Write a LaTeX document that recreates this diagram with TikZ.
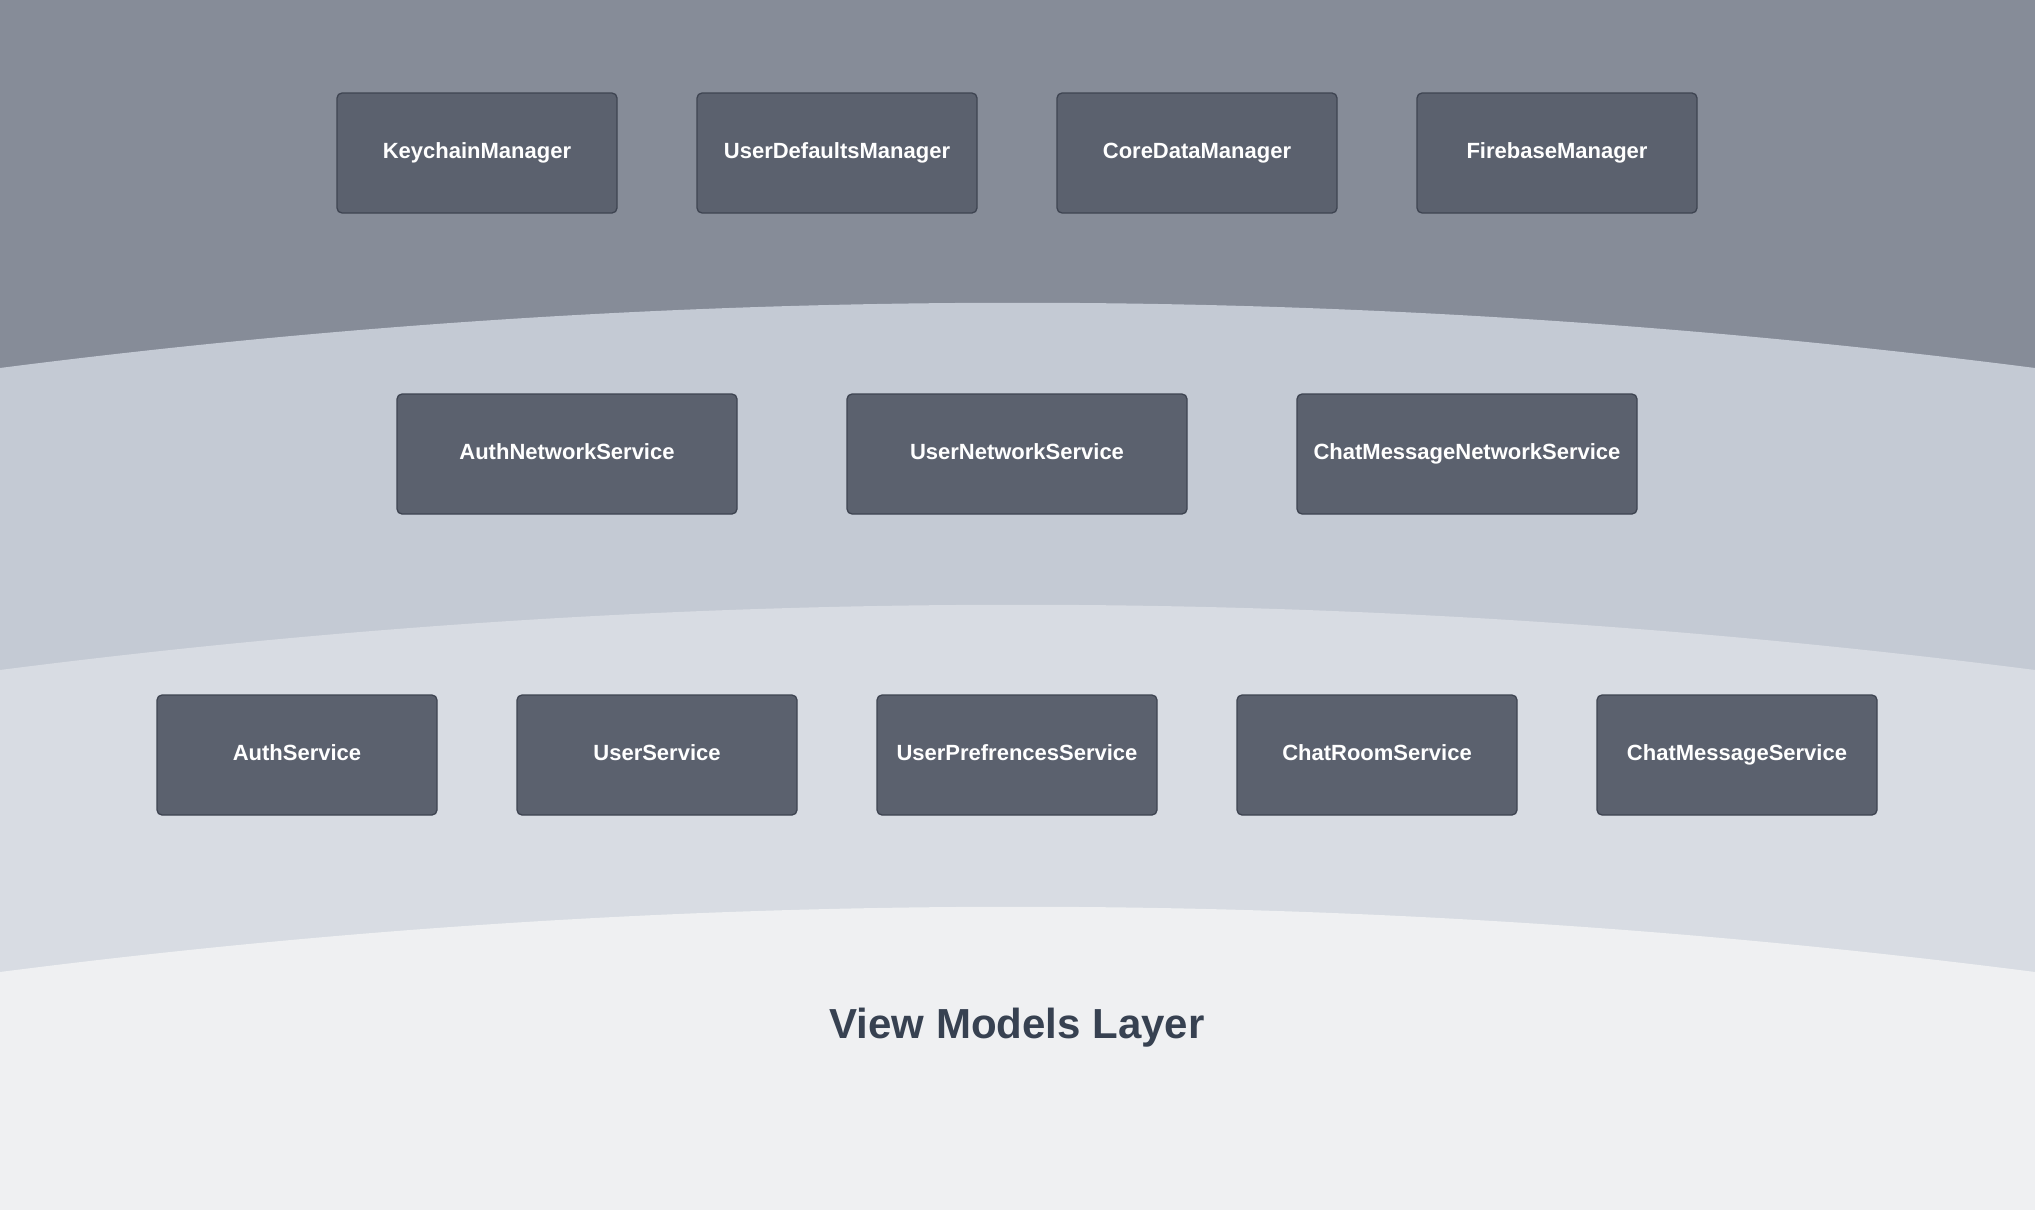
\documentclass[tikz,border=0pt]{standalone}
\usepackage{fontspec}
\setmainfont{Liberation Sans}
\definecolor{bandA}{HTML}{868C98}
\definecolor{bandB}{HTML}{C4CAD4}
\definecolor{bandC}{HTML}{D8DCE3}
\definecolor{bandD}{HTML}{EFF0F2}
\definecolor{boxfill}{HTML}{5B616E}
\definecolor{boxline}{HTML}{3E4451}
\definecolor{titlecol}{HTML}{374151}
\tikzset{
  comp/.style={draw=boxline, fill=boxfill, line width=1.3pt, rounded corners=5pt,
    minimum height=120pt, inner sep=0pt, text=white, text height=16pt, text depth=5pt,
    font=\fontsize{22pt}{26pt}\selectfont\bfseries},
  compA/.style={comp, minimum width=280pt},
  compB/.style={comp, minimum width=340pt},
}
\begin{document}
\begin{tikzpicture}[x=1pt, y=-1pt]
\useasboundingbox (0,0) rectangle (2035,1210);
\fill[bandA] (0,0) rectangle (2035,1210);
\fill[bandB] (0,368) .. controls (678,281) and (1357,281) .. (2035,368) -- (2035,1210) -- (0,1210) -- cycle;
\fill[bandC] (0,670) .. controls (678,583) and (1357,583) .. (2035,670) -- (2035,1210) -- (0,1210) -- cycle;
\fill[bandD] (0,972) .. controls (678,885) and (1357,885) .. (2035,972) -- (2035,1210) -- (0,1210) -- cycle;

\node[compA] (keychain) at (477,153) {KeychainManager};
\node[compA] (userdefaults) at (837,153) {UserDefaultsManager};
\node[compA] (coredata) at (1197,153) {CoreDataManager};
\node[compA] (firebase) at (1557,153) {FirebaseManager};

\node[compB] (authnet) at (567,454) {AuthNetworkService};
\node[compB] (usernet) at (1017,454) {UserNetworkService};
\node[compB] (chatnet) at (1467,454) {ChatMessageNetworkService};

\node[compA] (auth) at (297,755) {AuthService};
\node[compA] (user) at (657,755) {UserService};
\node[compA] (prefs) at (1017,755) {UserPrefrencesService};
\node[compA] (chatroom) at (1377,755) {ChatRoomService};
\node[compA] (chatmsg) at (1737,755) {ChatMessageService};

\node[text=titlecol, text height=30pt, text depth=0pt, font=\fontsize{42pt}{50pt}\selectfont\bfseries] (title) at (1017,1023) {View Models Layer};
\end{tikzpicture}
\end{document}
